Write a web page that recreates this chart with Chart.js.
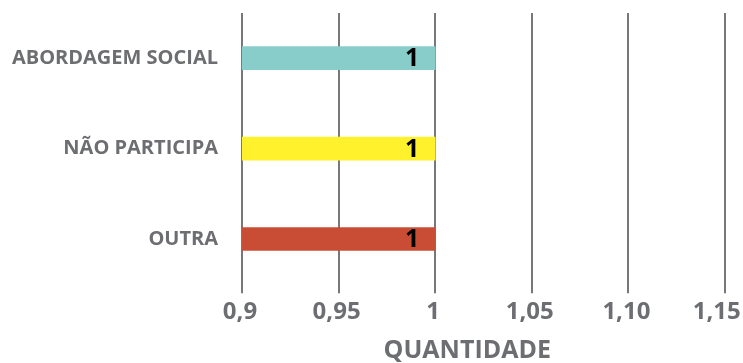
<!DOCTYPE html>
<html>
<head>
<meta charset="utf-8">
<script src="https://cdn.jsdelivr.net/npm/chart.js@4"></script>
<style>
  html, body { margin: 0; padding: 0; background: #fff; }
  #wrap { width: 743px; height: 363px; }
</style>
</head>
<body>
<div id="wrap"><canvas id="chart"></canvas></div>
<script>
// Chart data
const categories = ['ABORDAGEM SOCIAL', 'NÃO PARTICIPA', 'OUTRA'];
const values = [1, 1, 1];
const barColors = ['#88cdca', '#fff22d', '#c94c34'];
const tickLabels = ['0,9', '0,95', '1', '1,05', '1,10', '1,15'];

const gray = '#6d6e71';
const fontFamily = "'Open Sans', sans-serif";

// Value labels drawn inside the bar end
const valueLabels = {
    id: 'valueLabels',
    afterDatasetsDraw(chart) {
        const ctx = chart.ctx;
        const meta = chart.getDatasetMeta(0);
        ctx.save();
        ctx.font = 'bold 25px ' + fontFamily;
        ctx.fillStyle = '#000';
        ctx.textAlign = 'right';
        ctx.textBaseline = 'middle';
        meta.data.forEach((bar, i) => {
            ctx.fillText(String(values[i]), bar.x - 16, bar.y + 1);
        });
        ctx.restore();
    }
};

new Chart(document.getElementById('chart'), {
    type: 'bar',
    data: {
        labels: categories,
        datasets: [{
            data: values,
            backgroundColor: barColors,
            borderWidth: 0,
            barThickness: 23
        }]
    },
    options: {
        indexAxis: 'y',
        responsive: true,
        maintainAspectRatio: false,
        animation: false,
        layout: {
            padding: { top: 13, right: 18, bottom: 0, left: 0 }
        },
        plugins: {
            legend: { display: false },
            tooltip: { enabled: false }
        },
        scales: {
            x: {
                min: 0.9,
                max: 1.15,
                border: { display: false },
                grid: {
                    color: '#77787b',
                    lineWidth: 2,
                    drawTicks: true,
                    tickLength: 9,
                    tickColor: '#77787b'
                },
                ticks: {
                    stepSize: 0.05,
                    color: gray,
                    padding: 5,
                    labelOffset: -2,
                    font: { family: fontFamily, size: 24, weight: 'bold' },
                    // last label is pulled in so it stays inside the canvas
                    callback: (value, index) =>
                        index === tickLabels.length - 1 ? tickLabels[index] + '\u00a0\u00a0' : tickLabels[index]
                },
                title: {
                    display: true,
                    text: 'QUANTIDADE\u00a0\u00a0\u00a0\u00a0\u00a0',
                    color: gray,
                    padding: { top: 6, bottom: 0 },
                    font: { family: fontFamily, size: 25, weight: 'bold', lineHeight: 1 }
                },
                afterFit(scale) {
                    scale.paddingLeft = 0;
                    scale.paddingRight = 0;
                }
            },
            y: {
                border: { display: false },
                grid: { display: false, drawTicks: false },
                ticks: {
                    color: gray,
                    padding: 24,
                    font: { family: fontFamily, size: 20, weight: 'bold' }
                },
                afterFit(scale) {
                    scale.width = 242;
                    scale.paddingTop = 0;
                    scale.paddingBottom = 0;
                }
            }
        }
    },
    plugins: [valueLabels]
});
</script>
</body>
</html>
